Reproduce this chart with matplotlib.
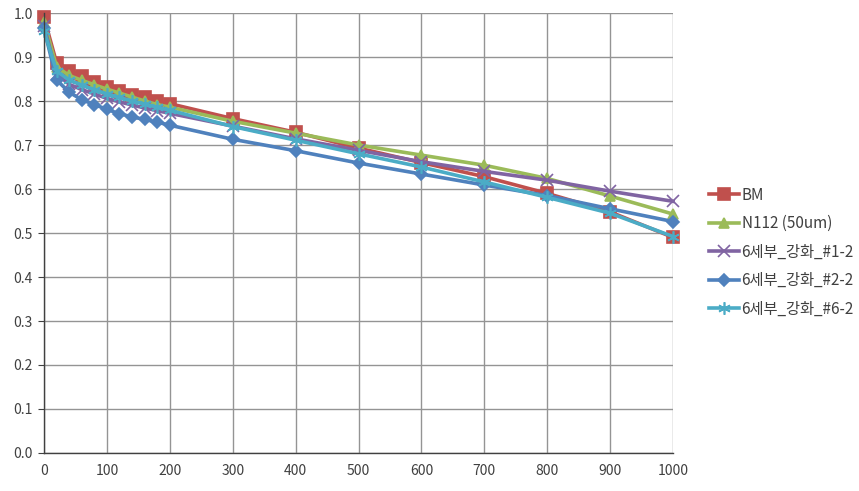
import matplotlib
matplotlib.use("Agg")
import matplotlib.pyplot as plt
from matplotlib.ticker import FormatStrFormatter

plt.rcParams['font.family'] = ['Noto Sans CJK KR', 'DejaVu Sans']

x = [0, 20, 40, 60, 80, 100, 120, 140, 160, 180, 200, 300, 400, 500, 600, 700, 800, 900, 1000]

bm = [0.99, 0.887, 0.869, 0.857, 0.843, 0.832, 0.823, 0.813, 0.808, 0.800, 0.794,
      0.760, 0.729, 0.693, 0.660, 0.628, 0.590, 0.548, 0.490]
n112 = [0.98, 0.878, 0.858, 0.847, 0.837, 0.827, 0.818, 0.809, 0.800, 0.792, 0.786,
        0.754, 0.727, 0.700, 0.677, 0.654, 0.624, 0.584, 0.543]
s12 = [0.97, 0.862, 0.838, 0.826, 0.816, 0.806, 0.798, 0.791, 0.784, 0.778, 0.772,
       0.743, 0.714, 0.688, 0.662, 0.640, 0.620, 0.595, 0.572]
s22 = [0.965, 0.848, 0.820, 0.803, 0.792, 0.781, 0.771, 0.764, 0.758, 0.752, 0.745,
       0.713, 0.687, 0.659, 0.634, 0.609, 0.585, 0.555, 0.526]
s62 = [0.96, 0.868, 0.848, 0.836, 0.826, 0.816, 0.808, 0.800, 0.793, 0.786, 0.779,
       0.742, 0.711, 0.680, 0.650, 0.616, 0.581, 0.545, 0.492]

labels = ['BM', 'N112 (50um)', '6세부_강화_#1-2', '6세부_강화_#2-2', '6세부_강화_#6-2']
colors = ['#C0504D', '#9BBB59', '#8064A2', '#4F81BD', '#4BACC6']
markers = ['s', '^', 'x', 'D', (6, 2, 0)]
msizes = [8, 7, 8, 6, 9]
series = [bm, n112, s12, s22, s62]

fig = plt.figure(figsize=(8.59, 4.91), dpi=100)
ax = fig.add_axes([0.0512, 0.0774, 0.7323, 0.8961])

for y, lab, c, m, ms in zip(series, labels, colors, markers, msizes):
    ax.plot(x, y, color=c, marker=m, markersize=ms, linewidth=2.6,
            markeredgewidth=1.2, markeredgecolor=c, label=lab, clip_on=False)

ax.set_xlim(0, 1000)
ax.set_ylim(0, 1.0)
ax.set_xticks(range(0, 1001, 100))
ax.set_yticks([i / 10 for i in range(11)])
ax.yaxis.set_major_formatter(FormatStrFormatter('%.1f'))
ax.grid(True, color='#949494', linewidth=1)
ax.set_axisbelow(True)
for s in ['top', 'right']:
    ax.spines[s].set_visible(False)
for s in ['left', 'bottom']:
    ax.spines[s].set_color('#404040')
    ax.spines[s].set_linewidth(1)
ax.tick_params(axis='y', length=4, color='#404040', labelsize=10, labelcolor='#404040', pad=4)
ax.tick_params(axis='x', length=0, labelsize=10, labelcolor='#404040', pad=8)

leg = fig.legend(loc='upper left', bbox_to_anchor=(0.818, 0.632), frameon=False,
                 fontsize=11, handlelength=2.0, handletextpad=0.15, labelspacing=0.75,
                 borderaxespad=0)
for t in leg.get_texts():
    t.set_color('#404040')

fig.savefig('out.png', dpi=100)
